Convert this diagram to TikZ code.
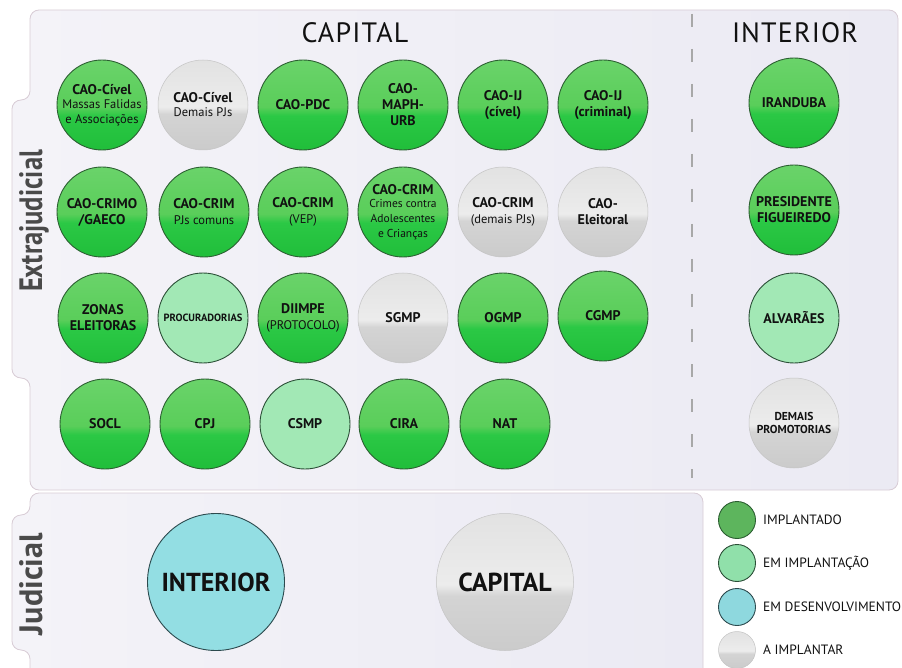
\documentclass[tikz,border=0pt]{standalone}
\usepackage{fontspec}
\setmainfont{PT Sans}

% status colours
\definecolor{gTop}{HTML}{6AD36A}
\definecolor{gLt}{HTML}{5ACE5A}
\definecolor{gMid}{HTML}{2BC845}
\definecolor{gBot}{HTML}{20BE3A}
\definecolor{gEdge}{HTML}{2C5F32}
\definecolor{lgFill}{HTML}{A2E8B5}
\definecolor{lgEdge}{HTML}{2B4F37}
\definecolor{cyFill}{HTML}{93DEE3}
\definecolor{cyEdge}{HTML}{2C4A4E}
\definecolor{grTop}{HTML}{E2E2E2}
\definecolor{grLt}{HTML}{ECECEC}
\definecolor{grMid}{HTML}{D4D4D4}
\definecolor{grBot}{HTML}{CBCBCB}
\definecolor{grEdge}{HTML}{C4C4C4}
\definecolor{legImpl}{HTML}{5DB55D}
\definecolor{legEmImpl}{HTML}{90E0AA}
\definecolor{legDes}{HTML}{8ED8DE}
% panels
\definecolor{panL}{HTML}{F4F3F8}
\definecolor{panR}{HTML}{EBEAF3}
\definecolor{panEdge}{HTML}{D8CCD5}
\definecolor{tabText}{HTML}{4A4A4A}
\definecolor{dashGray}{HTML}{A8A8A8}
\definecolor{ink}{HTML}{111111}

\pgfdeclareverticalshading{greenglass}{100bp}{color(0bp)=(gBot); color(25bp)=(gBot); color(44bp)=(gMid); color(49bp)=(gLt); color(75bp)=(gTop); color(100bp)=(gTop)}
\pgfdeclareverticalshading{grayglass}{100bp}{color(0bp)=(grBot); color(25bp)=(grBot); color(45bp)=(grMid); color(49bp)=(grLt); color(75bp)=(grTop); color(100bp)=(grTop)}

\newcommand{\lite}{\mdseries\fontsize{12.5}{14}\selectfont}
\newcommand{\smallite}{\mdseries\fontsize{11.5}{12.5}\selectfont}

\begin{document}
\begin{tikzpicture}[x=1pt,y=-1pt,
  bub/.style={circle, minimum size=90pt, inner sep=0pt, align=center,
    line width=0.9pt, text=ink, font=\bfseries\fontsize{14}{16}\selectfont},
  impl/.style={bub, shading=greenglass, draw=gEdge},
  emimp/.style={bub, fill=lgFill, draw=lgEdge},
  desenv/.style={bub, fill=cyFill, draw=cyEdge},
  aimp/.style={bub, shading=grayglass, draw=grEdge, line width=0.5pt},
  big/.style={minimum size=137pt, font=\bfseries\fontsize{26}{28}\selectfont},
  legdot/.style={circle, minimum size=37pt, inner sep=0pt, line width=0.9pt},
  legtxt/.style={anchor=west, inner sep=0pt, text=ink, font=\fontsize{13.5}{14}\selectfont},
  panel/.style={draw=panEdge, line width=0.8pt, left color=panL, right color=panR},
  title/.style={text=ink, font=\fontsize{28}{28}\selectfont\addfontfeatures{LetterSpace=4}},
  tabtitle/.style={rotate=90, anchor=base, inner sep=0pt, text=tabText, font=\bfseries\fontsize{24}{24}\selectfont}
]
\useasboundingbox (0,0) rectangle (902,668);

% extrajudicial panel with its side tab
\path[panel, rounded corners=9pt]
  (400,10) -- (898,10) -- (898,490) -- (30,490) -- (30,378) -- (12,378)
  -- (12,100) -- (30,100) -- (30,10) -- cycle;
% judicial panel with its side tab
\path[panel, rounded corners=9pt]
  (400,493) -- (703,493) -- (703,690) -- (30,690) -- (30,650) -- (12,650)
  -- (12,515) -- (30,515) -- (30,493) -- cycle;

\node[tabtitle] (tabExt) at (42,221) {\resizebox{142pt}{23pt}{Extrajudicial}};
\node[tabtitle] (tabJud) at (42,584) {\resizebox{102pt}{23pt}{Judicial}};

\node[title] (tCap) at (355,33) {CAPITAL};
\node[title] (tInt) at (795,33) {INTERIOR};

% divider between capital and interior
\coordinate (divTop) at (692,14);
\coordinate (divBot) at (692,478);
\draw[dashGray, line width=1.6pt, dash pattern=on 13pt off 22pt] (divTop) -- (divBot);

% capital, row 1
\node[impl] (c11) at (102,105) {CAO-Cível\\[-2pt]{\lite Massas Falidas}\\[-1pt]{\lite e Associações}};
\node[aimp] (c12) at (203,105) {CAO-Cível\\[-2pt]{\lite Demais PJs}};
\node[impl] (c13) at (303,105) {CAO-PDC};
\node[impl] (c14) at (403,105) {CAO-\\MAPH-\\URB};
\node[impl] (c15) at (503,105) {CAO-IJ\\(cível)};
\node[impl] (c16) at (603,105) {CAO-IJ\\(criminal)};
% capital, row 2
\node[impl] (c21) at (102,212) {CAO-CRIMO\\/GAECO};
\node[impl] (c22) at (204,212) {CAO-CRIM\\{\lite PJs comuns}};
\node[impl] (c23) at (303,212) {CAO-CRIM\\{\lite (VEP)}};
\node[impl] (c24) at (403,212) {CAO-CRIM\\[-3pt]{\smallite Crimes contra}\\[-1pt]{\smallite Adolescentes}\\[-1pt]{\smallite e Crianças}};
\node[aimp] (c25) at (503,212) {CAO-CRIM\\{\lite (demais PJs)}};
\node[aimp] (c26) at (603,212) {CAO-\\Eleitoral};
% capital, row 3
\node[impl] (c31) at (103,318) {ZONAS\\ELEITORAS};
\node[emimp, font=\bfseries\fontsize{10.5}{12}\selectfont] (c32) at (203,318) {PROCURADORIAS};
\node[impl] (c33) at (303,318) {DIIMPE\\{\lite (PROTOCOLO)}};
\node[aimp] (c34) at (403,318) {SGMP};
\node[impl] (c35) at (503,318) {OGMP};
\node[impl] (c36) at (603,316) {CGMP};
% capital, row 4
\node[impl] (c41) at (105,424) {SOCL};
\node[impl] (c42) at (205,424) {CPJ};
\node[emimp] (c43) at (305,424) {CSMP};
\node[impl] (c44) at (404,424) {CIRA};
\node[impl] (c45) at (505,424) {NAT};

% interior
\node[impl] (i1) at (794,103) {IRANDUBA};
\node[impl] (i2) at (794,210) {PRESIDENTE\\FIGUEIREDO};
\node[emimp] (i3) at (794,318) {ALVARÃES};
\node[aimp, font=\bfseries\fontsize{11.5}{13}\selectfont] (i4) at (794,423) {DEMAIS\\PROMOTORIAS};

% judicial
\node[desenv, big] (jInt) at (216,582) {INTERIOR};
\node[aimp, big] (jCap) at (505,582) {CAPITAL};

% legend
\node[legdot, fill=legImpl, draw=gEdge] (l1) at (737,520) {};
\node[legdot, fill=legEmImpl, draw=lgEdge] (l2) at (737,563) {};
\node[legdot, fill=legDes, draw=cyEdge] (l3) at (737,607) {};
\node[legdot, shading=grayglass, draw=grEdge, line width=0.5pt] (l4) at (737,650) {};
\node[legtxt] (lt1) at (763,520) {IMPLANTADO};
\node[legtxt] (lt2) at (763,563) {EM IMPLANTAÇÃO};
\node[legtxt] (lt3) at (763,607) {EM DESENVOLVIMENTO};
\node[legtxt] (lt4) at (763,650) {A IMPLANTAR};
\end{tikzpicture}
\end{document}
